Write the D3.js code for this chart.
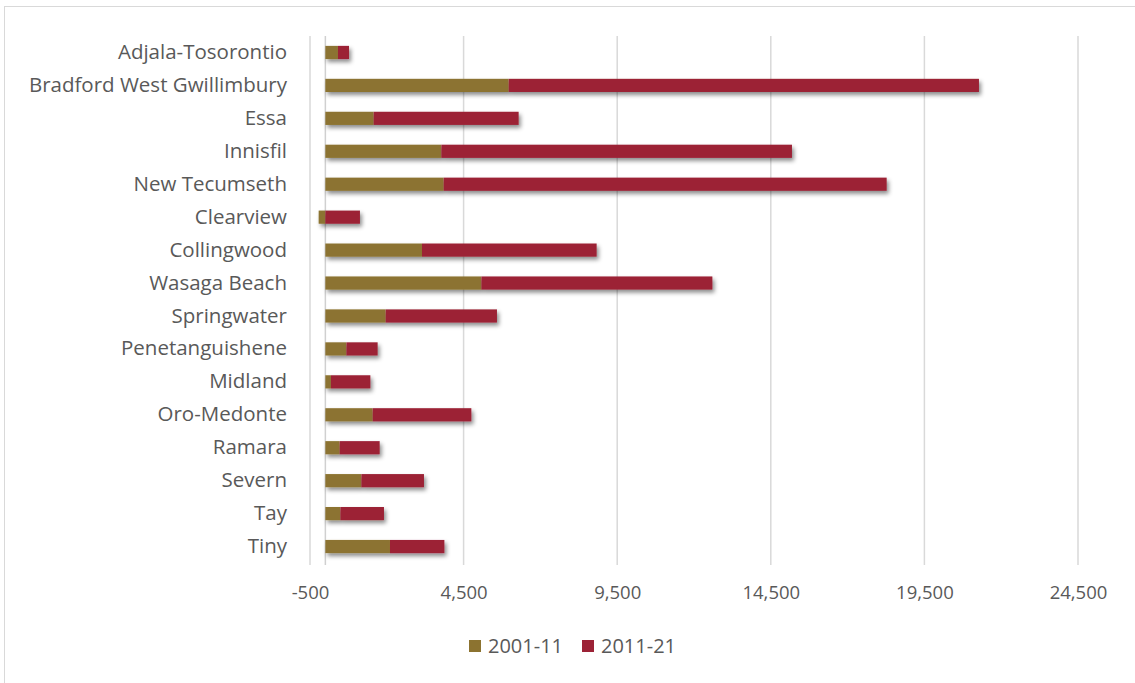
<!DOCTYPE html>
<html><head><meta charset="utf-8">
<script src="https://cdn.jsdelivr.net/npm/d3@7"></script>
<style>
body{margin:0;background:#fff;}
svg{display:block;}
text{font-family:"Open Sans",sans-serif;fill:#595959;}
</style></head>
<body><svg id="c" width="1135" height="683"></svg>
<script>
const categories = ["Adjala-Tosorontio","Bradford West Gwillimbury","Essa","Innisfil","New Tecumseth","Clearview","Collingwood","Wasaga Beach","Springwater","Penetanguishene","Midland","Oro-Medonte","Ramara","Severn","Tay","Tiny"];
const s2001 = [410, 5967, 1572, 3776, 3851, -218, 3145, 5078, 1963, 684, 182, 1540, 465, 1172, 488, 2103];
const s2011 = [360, 15309, 4720, 11413, 14421, 1126, 5686, 7520, 3623, 1018, 1283, 3212, 1303, 2038, 1420, 1771];
const seriesNames = ["2001-11","2011-21"];
const colors = ["#8C7330","#9C2236"];
const tickValues = [-500, 4500, 9500, 14500, 19500, 24500];

const svg = d3.select("#c");
// chart border
svg.append("rect").attr("x",4.5).attr("y",6.5).attr("width",1140).attr("height",690)
  .attr("fill","none").attr("stroke","#d9d9d9").attr("stroke-width",1);

const defs = svg.append("defs");
const f = defs.append("filter").attr("id","sh").attr("x","-10%").attr("y","-50%").attr("width","130%").attr("height","250%");
f.append("feDropShadow").attr("dx",2).attr("dy",3).attr("stdDeviation",2).attr("flood-color","#000").attr("flood-opacity",0.45);

const x = d3.scaleLinear().domain([-500, 24500]).range([310, 1078]);
const y = d3.scaleBand().domain(categories).range([36, 563]).paddingInner(0.6).paddingOuter(0.3);

// gridlines
svg.append("g").selectAll("line").data(tickValues).join("line")
  .attr("x1",d=>x(d)).attr("x2",d=>x(d)).attr("y1",36).attr("y2",565)
  .attr("stroke","#d9d9d9").attr("stroke-width",1.5);
// zero axis line
svg.append("line").attr("x1",x(0)).attr("x2",x(0)).attr("y1",36).attr("y2",565)
  .attr("stroke","#d0d0d0").attr("stroke-width",1.5);

// x tick labels
const fmt = d3.format(",");
const xa = svg.append("g").attr("transform","translate(0,593)")
  .call(d3.axisBottom(x).tickValues(tickValues).tickSize(0).tickFormat(d => fmt(d).replace("\u2212","-")));
xa.select(".domain").remove();
xa.selectAll("text").attr("dy","0.32em").attr("y",0).style("font-size","18.5px").style("font-family","'Open Sans',sans-serif").attr("fill","#595959");

// y labels
const ya = svg.append("g").attr("transform","translate(287,0)")
  .call(d3.axisLeft(y).tickSize(0).tickPadding(0));
ya.select(".domain").remove();
ya.selectAll("text").style("font-size","20.5px").style("font-family","'Open Sans',sans-serif").attr("fill","#595959");

// bars
const g = svg.append("g").attr("filter","url(#sh)");
categories.forEach((c,i)=>{
  const a = s2001[i], b = s2011[i];
  const segs = [];
  let pos = 0, neg = 0;
  [a,b].forEach((v,k)=>{
    if (v >= 0){ segs.push({x0:pos, x1:pos+v, k}); pos += v; }
    else { segs.push({x0:neg+v, x1:neg, k}); neg += v; }
  });
  segs.forEach(s=>{
    g.append("rect").attr("x",x(s.x0)).attr("width",x(s.x1)-x(s.x0))
      .attr("y",y(c)).attr("height",y.bandwidth()).attr("fill",colors[s.k]);
  });
});

// legend
const leg = svg.append("g").attr("transform","translate(469,646)");
const items = [{n:seriesNames[0],c:colors[0],x:0},{n:seriesNames[1],c:colors[1],x:113}];
items.forEach(it=>{
  leg.append("rect").attr("x",it.x).attr("y",-6).attr("width",12).attr("height",12).attr("fill",it.c);
  leg.append("text").attr("x",it.x+19).attr("y",0).attr("dy","0.35em").style("font-size","20px").text(it.n);
});
</script></body></html>
